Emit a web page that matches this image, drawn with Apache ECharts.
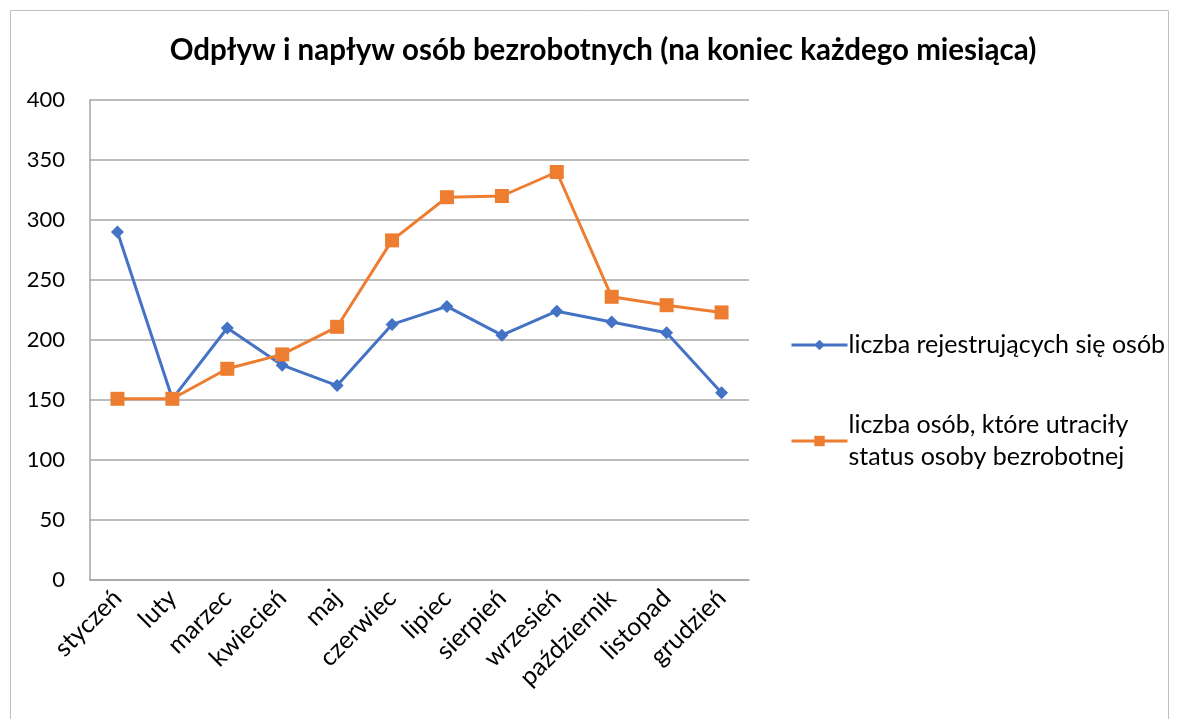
<!DOCTYPE html>
<html>
<head>
<meta charset="utf-8">
<script src="https://cdn.jsdelivr.net/npm/echarts@6/dist/echarts.min.js"></script>
<style>
  html, body { margin: 0; padding: 0; background: #fff; }
  #main { width: 1179px; height: 719px; }
</style>
</head>
<body>
<div id="main"></div>
<script>
// miesiące
var months = ['styczeń', 'luty', 'marzec', 'kwiecień', 'maj', 'czerwiec', 'lipiec', 'sierpień', 'wrzesień', 'październik', 'listopad', 'grudzień']
// liczba rejestrujących się osób
var registered = [290, 151, 210, 179, 162, 213, 228, 204, 224, 215, 206, 156]
// liczba osób, które utraciły status
var removed = [151, 151, 176, 188, 211, 283, 319, 320, 340, 236, 229, 223]
var seriesNames = ['liczba rejestrujących się osób', 'liczba osób, które utraciły\nstatus osoby bezrobotnej']

var font = 'Lato, "Open Sans", sans-serif'
var chart = echarts.init(document.getElementById('main'))
var option = {
  animation: false,
  textStyle: { fontFamily: font },
  graphic: [{
    type: 'polyline',
    shape: { points: [[10.5, 719], [10.5, 10.5], [1168.5, 10.5], [1168.5, 719]] },
    style: { stroke: '#bfbfbf', lineWidth: 1, fill: null }
  }],
  title: {
    text: 'Odpływ i napływ osób bezrobotnych (na koniec każdego miesiąca)',
    left: 598,
    textAlign: 'center',
    top: 30,
    textStyle: { fontSize: 29.5, fontWeight: 'bold', color: '#000', fontFamily: font }
  },
  legend: {
    orient: 'vertical',
    left: 785,
    top: 324,
    itemWidth: 56,
    itemHeight: 13,
    itemGap: 48,
    lineStyle: { width: 3 },
    textStyle: { fontSize: 25, color: '#000', lineHeight: 32, fontFamily: font, padding: [0, 0, 0, -4] },
    data: seriesNames
  },
  grid: { left: 90, top: 100, width: 659, height: 480 },
  xAxis: {
    type: 'category',
    data: months,
    boundaryGap: true,
    axisLine: { lineStyle: { color: '#a6a6a6', width: 1.5 } },
    axisTick: { show: false },
    axisLabel: { rotate: 45, fontSize: 25, color: '#000', margin: 14, interval: 0 }
  },
  yAxis: {
    type: 'value',
    min: 0,
    max: 400,
    interval: 50,
    axisLine: { show: true, lineStyle: { color: '#a6a6a6', width: 1.5 } },
    axisTick: { show: false },
    axisLabel: { fontSize: 22, color: '#000', margin: 25 },
    splitLine: { lineStyle: { color: '#a6a6a6', width: 1.5 } }
  },
  series: [
    {
      name: seriesNames[0],
      type: 'line',
      data: registered,
      symbol: 'diamond',
      symbolSize: 13,
      lineStyle: { color: '#4472c4', width: 3 },
      itemStyle: { color: '#4472c4' }
    },
    {
      name: seriesNames[1],
      type: 'line',
      data: removed,
      symbol: 'rect',
      symbolSize: 14,
      lineStyle: { color: '#ed7d31', width: 3 },
      itemStyle: { color: '#ed7d31' }
    }
  ]
}
chart.setOption(option)
</script>
</body>
</html>
